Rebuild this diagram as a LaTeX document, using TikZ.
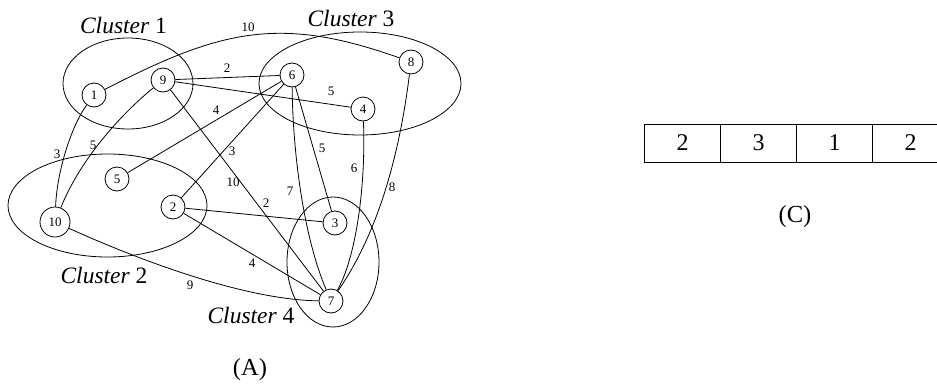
\documentclass[tikz,border=0pt]{standalone}
\usepackage{fontspec}
\setmainfont{Liberation Serif}
\begin{document}
\begin{tikzpicture}[x=1pt,y=-1pt,line width=0.8pt,
  vtx/.style={circle,draw,minimum size=24pt,inner sep=0pt,font=\fontsize{13}{15}\selectfont},
  lab/.style={inner sep=0pt,font=\fontsize{13}{15}\selectfont},
  clab/.style={inner sep=0pt,font=\fontsize{23.5}{27}\selectfont},
  captxt/.style={inner sep=0pt,font=\fontsize{24.5}{28}\selectfont},
  cell/.style={draw,rectangle,minimum width=76pt,minimum height=38pt,inner sep=0pt,font=\fontsize{24}{28}\selectfont}]
\useasboundingbox (0,0) rectangle (937,383);
% clusters
\draw (128,83.5) ellipse [x radius=65,y radius=45.5];
\draw (360,83.5) ellipse [x radius=101,y radius=51.5];
\draw (107.5,205.5) ellipse [x radius=99.5,y radius=51.5];
\draw (333,262) ellipse [x radius=46,y radius=65];
\node[clab] (cl1) at (123.5,25) {\textit{Cluster} 1};
\node[clab] (cl3) at (351,18) {\textit{Cluster} 3};
\node[clab] (cl2) at (104,275) {\textit{Cluster} 2};
\node[clab] (cl4) at (251,315) {\textit{Cluster} 4};
% vertices
\node[vtx] (n1) at (94,95) {1};
\node[vtx] (n9) at (163,80) {9};
\node[vtx] (n6) at (292,75) {6};
\node[vtx] (n8) at (411,62) {8};
\node[vtx] (n4) at (363,109) {4};
\node[vtx] (n5) at (117,179) {5};
\node[vtx] (n2) at (173,207) {2};
\node[vtx,minimum size=30pt] (n10) at (55,222) {10};
\node[vtx] (n3) at (335,223) {3};
\node[vtx] (n7) at (331,301) {7};
% edges
\draw (n1) .. controls (220,30) and (279,15) .. (n8);
\draw (n9) -- (n6);
\draw (n9) -- (n4);
\draw (n6) -- (n5);
\draw (n6) -- (n2);
\draw (n9) .. controls (120,115) and (80,160) .. (n10);
\draw (n1) .. controls (72,125) and (57,170) .. (n10);
\draw (n9) -- (n7);
\draw (n6) -- (n3);
\draw (n6) .. controls (293,160) and (305,240) .. (n7);
\draw (n4) .. controls (366,190) and (355,260) .. (n7);
\draw (n8) .. controls (400,150) and (380,230) .. (n7);
\draw (n2) -- (n3);
\draw (n2) -- (n7);
\draw (n10) .. controls (150,265) and (250,300) .. (n7);
% edge labels
\node[lab] (w18) at (248,27) {10};
\node[lab] (w96) at (227,68) {2};
\node[lab] (w94) at (331,91) {5};
\node[lab] (w65) at (216,110) {4};
\node[lab] (w910) at (93,145) {5};
\node[lab] (w110) at (57,154) {3};
\node[lab] (w62) at (232,151) {3};
\node[lab] (w63) at (322,148) {5};
\node[lab] (w47) at (354,168) {6};
\node[lab] (w87) at (392,187) {8};
\node[lab] (w97) at (233,182) {10};
\node[lab] (w67) at (290,191) {7};
\node[lab] (w23) at (266,203) {2};
\node[lab] (w27) at (252,263) {4};
\node[lab] (w107) at (190,285) {9};
\node[captxt] (capA) at (250,370) {(A)};
% array
\node[cell] (c1) at (682.5,143) {2};
\node[cell] (c2) at (758.5,143) {3};
\node[cell] (c3) at (834.5,143) {1};
\node[cell] (c4) at (910.5,143) {2};
\node[captxt] (capC) at (795,217) {(C)};
\end{tikzpicture}
\end{document}
